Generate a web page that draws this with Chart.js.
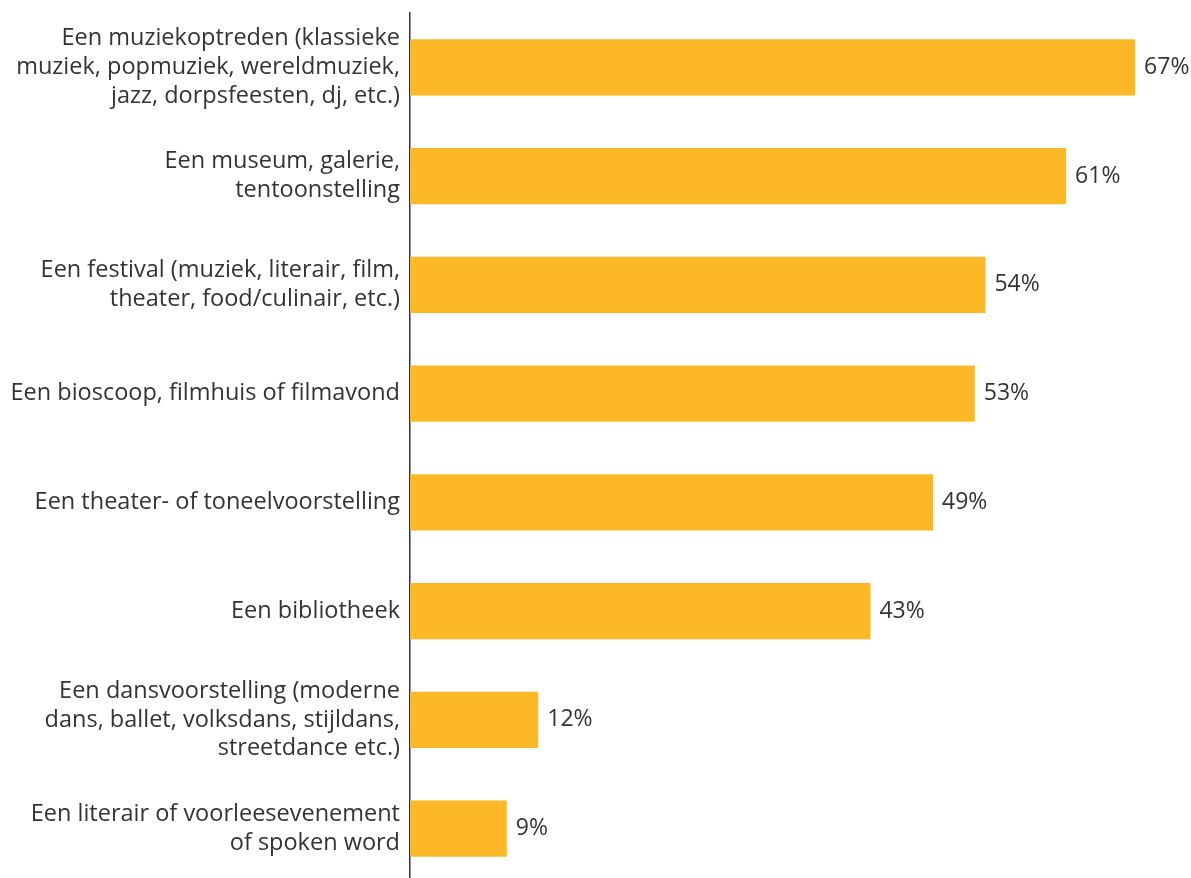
<!DOCTYPE html>
<html>
<head>
<meta charset="utf-8">
<script src="https://cdn.jsdelivr.net/npm/chart.js@4/dist/chart.umd.min.js"></script>
<style>
html,body{margin:0;padding:0;background:#fff;overflow:hidden;}
#wrap{position:relative;width:1191px;height:883px;}
</style>
</head>
<body>
<div id="wrap"><canvas id="c"></canvas></div>
<script>
const categories = [
  ["Een muziekoptreden (klassieke", "muziek, popmuziek, wereldmuziek,", "jazz, dorpsfeesten, dj, etc.)"],
  ["Een museum, galerie,", "tentoonstelling"],
  ["Een festival (muziek, literair, film,", "theater, food/culinair, etc.)"],
  "Een bioscoop, filmhuis of filmavond",
  "Een theater- of toneelvoorstelling",
  "Een bibliotheek",
  ["Een dansvoorstelling (moderne", "dans, ballet, volksdans, stijldans,", "streetdance etc.)"],
  ["Een literair of voorleesevenement", "of spoken word"]
];
// values (labels show rounded percentages)
const values = [67.45, 61.03, 53.53, 52.54, 48.65, 42.83, 11.93, 9.01];
const valueLabels = ["67%", "61%", "54%", "53%", "49%", "43%", "12%", "9%"];

const FONT = "'Open Sans', 'Noto Sans', sans-serif";

const valueLabelPlugin = {
  id: 'valueLabels',
  afterDatasetsDraw(chart) {
    const ctx = chart.ctx;
    const meta = chart.getDatasetMeta(0);
    ctx.save();
    ctx.font = "23px " + FONT;
    ctx.fillStyle = "#333333";
    ctx.textAlign = "left";
    ctx.textBaseline = "middle";
    meta.data.forEach((bar, i) => {
      ctx.fillText(valueLabels[i], bar.x + 9, bar.y);
    });
    ctx.restore();
  }
};

new Chart(document.getElementById('c'), {
  type: 'bar',
  data: {
    labels: categories,
    datasets: [{
      data: values,
      backgroundColor: '#FDB827',
      borderWidth: 0,
      barPercentage: 0.516,
      categoryPercentage: 1
    }]
  },
  options: {
    indexAxis: 'y',
    responsive: true,
    maintainAspectRatio: false,
    animation: false,
    layout: { padding: { top: 13, right: 0, bottom: 0, left: 0 } },
    plugins: { legend: { display: false }, tooltip: { enabled: false } },
    scales: {
      x: {
        display: false,
        min: 0,
        max: 72.65
      },
      y: {
        afterFit(scale) {
          scale.width = 410;
          scale.paddingTop = 0;
          scale.paddingBottom = 0;
        },
        grid: { display: false, drawTicks: false },
        border: { display: true, color: '#333333', width: 1.5 },
        ticks: {
          color: '#333333',
          padding: 10,
          font: { family: FONT, size: 23.5, lineHeight: 1.23 },
          crossAlign: 'near'
        }
      }
    }
  },
  plugins: [valueLabelPlugin]
});
</script>
</body>
</html>
